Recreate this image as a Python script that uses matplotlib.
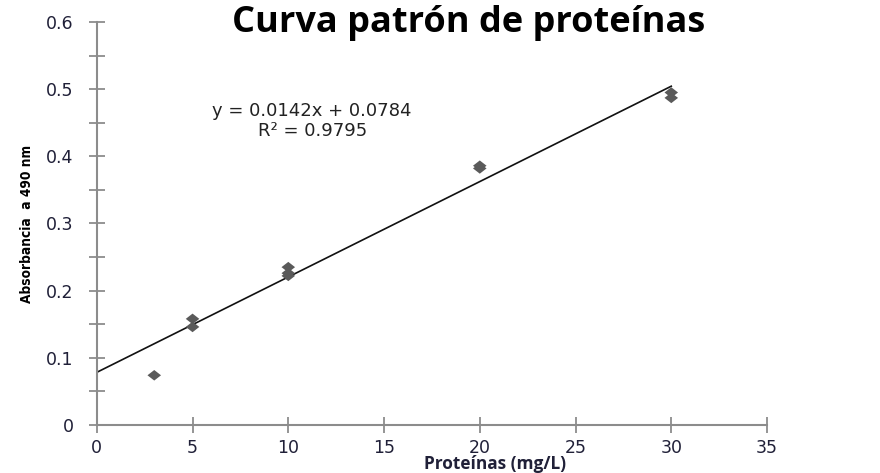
import numpy as np
import matplotlib.pyplot as plt
from matplotlib.ticker import MultipleLocator

# standard curve readings
proteinas = [3, 5, 5, 10, 10, 10, 20, 20, 30, 30]
absorbancia = [0.074, 0.158, 0.146, 0.235, 0.226, 0.222, 0.386, 0.382, 0.495, 0.487]

# linear trend
pendiente = 0.0142
intercepto = 0.0784
r2 = 0.9795

fig = plt.figure(figsize=(8.8, 4.73), dpi=100)
ax = fig.add_axes([0.110, 0.1015, 0.7616, 0.852])

# slightly flattened diamond
rombo = [(-1, 0), (0, 0.78), (1, 0), (0, -0.78), (-1, 0)]
ax.scatter(proteinas, absorbancia, marker=rombo, s=95, color='#5a5a5a',
           edgecolors='none', zorder=3)

xl = np.array([0, 30])
ax.plot(xl, pendiente * xl + intercepto, color='#111111', lw=1.2, zorder=2)

ax.set_xlim(0, 35)
ax.set_ylim(0, 0.6)
ax.xaxis.set_major_locator(MultipleLocator(5))
ax.yaxis.set_major_locator(MultipleLocator(0.1))
ax.yaxis.set_minor_locator(MultipleLocator(0.05))
ax.yaxis.set_major_formatter(lambda v, p: '0' if v == 0 else f'{v:.1f}')

for side in ('top', 'right'):
    ax.spines[side].set_visible(False)
for side in ('left', 'bottom'):
    ax.spines[side].set_color('#8c8c8c')
    ax.spines[side].set_linewidth(1.5)

ax.tick_params(which='both', direction='inout', color='#8c8c8c', width=1.3,
               length=11.5, labelsize=12.5, labelcolor='#202038')
ax.tick_params(axis='y', pad=11)
ax.tick_params(axis='x', pad=4)

fig.text(0.533, 1 - 32 / 473, 'Curva patrón de proteínas', fontsize=26,
         fontweight='bold', family=['Open Sans', 'DejaVu Sans'],
         ha='center', va='baseline')

ax.set_xlabel('Proteínas (mg/L)', fontsize=12.4, fontweight='bold',
              family=['Open Sans', 'DejaVu Sans'], color='#202038')
ax.xaxis.set_label_coords(0.594, -0.074)
ax.set_ylabel('Absorbancia  a 490 nm', fontsize=9.8, fontweight='bold',
              fontstretch='condensed',
              family=['Liberation Sans Narrow', 'DejaVu Sans'])
ax.yaxis.set_label_coords(-0.093, 0.498)

ax.text(11.25, 0.4675, f'y = {pendiente}x + {intercepto}', fontsize=13,
        color='#222222', ha='center', va='center')
ax.text(11.25, 0.4377, f'R² = {r2}', fontsize=13,
        color='#222222', ha='center', va='center')

fig.savefig('out.png', dpi=100)
